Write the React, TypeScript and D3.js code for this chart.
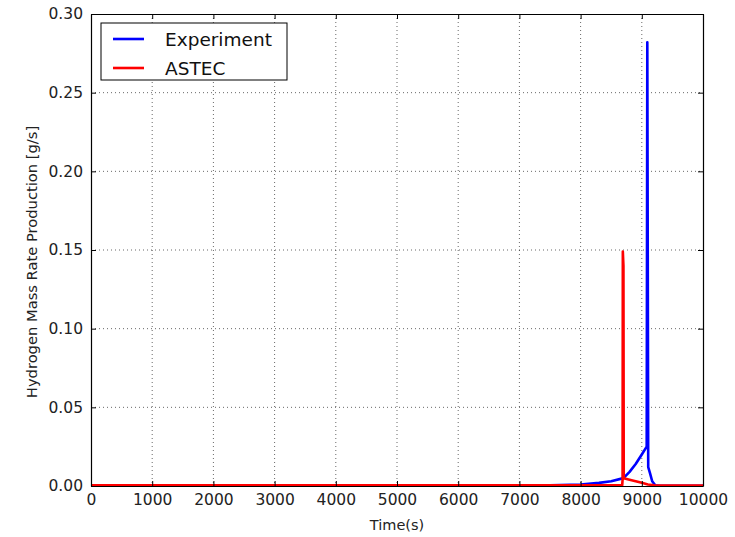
import { useEffect, useRef } from 'react';
import * as d3 from 'd3';

// Experiment series (time in s, rate in g/s)
const expTime = [0, 1000, 2000, 3000, 4000, 5000, 6000, 7000, 7500, 8000, 8300, 8500, 8700, 8800, 8900, 9000, 9080, 9090, 9105, 9135, 9170, 9220, 9300, 10000];
const expRate = [0, 0, 0, 0, 0, 0, 0, 0.0003, 0.0005, 0.001, 0.002, 0.003, 0.005, 0.009, 0.014, 0.02, 0.025, 0.282, 0.012, 0.008, 0.003, 0.0005, 0.0002, 0.0002];

// ASTEC series
const astecTime = [0, 2000, 4000, 6000, 8000, 8680, 8686, 8690, 8700, 8705, 8800, 8900, 9000, 9100, 9200, 10000];
const astecRate = [0.0005, 0.0005, 0.0005, 0.0005, 0.0005, 0.0006, 0.004, 0.149, 0.14, 0.005, 0.004, 0.003, 0.002, 0.001, 0.0005, 0.0003];

const xTicks = [0, 1000, 2000, 3000, 4000, 5000, 6000, 7000, 8000, 9000, 10000];
const yTicks = [0, 0.05, 0.1, 0.15, 0.2, 0.25, 0.3];

const seriesNames = ['Experiment', 'ASTEC'];
const seriesColors = ['#0000ff', '#ff0000'];

const App = () => {
  const svgRef = useRef<SVGSVGElement>(null);

  useEffect(() => {
    const svg = d3.select(svgRef.current);
    svg.selectAll('*').remove();

    const W = 735, H = 537;
    const margin = { top: 14, right: 32, bottom: 51, left: 91 };
    const width = W - margin.left - margin.right;
    const height = H - margin.top - margin.bottom;
    const font = 'DejaVu Sans, sans-serif';

    svg.attr('width', W).attr('height', H).style('font-family', font);
    svg.append('rect').attr('width', W).attr('height', H).attr('fill', '#fff');

    const g = svg.append('g').attr('transform', `translate(${margin.left},${margin.top})`);

    const x = d3.scaleLinear().domain([0, 10000]).range([0, width]);
    const y = d3.scaleLinear().domain([0, 0.3]).range([height, 0]);

    // Grid
    g.selectAll('.vgrid').data(xTicks.slice(1, -1)).enter().append('line')
      .attr('x1', d => x(d)).attr('x2', d => x(d)).attr('y1', 0).attr('y2', height)
      .attr('stroke', '#000').attr('stroke-width', 0.6).attr('stroke-dasharray', '1,3');
    g.selectAll('.hgrid').data(yTicks.slice(1, -1)).enter().append('line')
      .attr('y1', d => y(d)).attr('y2', d => y(d)).attr('x1', 0).attr('x2', width)
      .attr('stroke', '#000').attr('stroke-width', 0.6).attr('stroke-dasharray', '1,3');

    // Lines
    g.append('clipPath').attr('id', 'clip').append('rect').attr('width', width).attr('height', height);
    const line = d3.line<[number, number]>().x(d => x(d[0])).y(d => y(d[1]));
    const expData = expTime.map((t, i) => [t, expRate[i]] as [number, number]);
    const astecData = astecTime.map((t, i) => [t, astecRate[i]] as [number, number]);
    [expData, astecData].forEach((data, i) => {
      g.append('path').datum(data).attr('d', line).attr('fill', 'none')
        .attr('stroke', seriesColors[i]).attr('stroke-width', 2.6)
        .attr('stroke-linejoin', 'round').attr('clip-path', 'url(#clip)');
    });

    // Axes (inward ticks on all sides)
    const ax = (axis: any) => axis.tickSizeInner(-5).tickSizeOuter(0).tickPadding(8);
    g.append('g').attr('transform', `translate(0,${height})`)
      .call(ax(d3.axisBottom(x).tickValues(xTicks).tickFormat(d3.format('d'))));
    g.append('g').call(ax(d3.axisLeft(y).tickValues(yTicks).tickFormat(d3.format('.2f'))));
    g.append('g').call(ax(d3.axisTop(x).tickValues(xTicks)).tickFormat(() => ''));
    g.append('g').attr('transform', `translate(${width},0)`)
      .call(ax(d3.axisRight(y).tickValues(yTicks)).tickFormat(() => ''));
    g.selectAll('.domain').attr('stroke', '#000').attr('stroke-width', 1.2);
    g.selectAll('.tick line').attr('stroke', '#000');
    g.selectAll('.tick text').attr('font-size', 15.5).attr('font-family', font).attr('fill', '#222');

    // Axis labels
    svg.append('text').attr('x', margin.left + width / 2).attr('y', 530)
      .attr('text-anchor', 'middle').attr('font-size', 14.5).attr('fill', '#222').text('Time(s)');
    svg.append('text').attr('transform', `translate(37,262) rotate(-90)`)
      .attr('text-anchor', 'middle').attr('font-size', 14.7).attr('fill', '#222')
      .text('Hydrogen Mass Rate Production [g/s]');

    // Legend
    const lg = svg.append('g').attr('transform', 'translate(101,23)');
    lg.append('rect').attr('width', 186).attr('height', 57).attr('fill', '#fff')
      .attr('stroke', '#000').attr('stroke-width', 1);
    seriesNames.forEach((name, i) => {
      const yy = 16 + i * 29;
      lg.append('line').attr('x1', 12).attr('x2', 43).attr('y1', yy).attr('y2', yy)
        .attr('stroke', seriesColors[i]).attr('stroke-width', 2.6);
      lg.append('text').attr('x', 64).attr('y', yy + 6.5).attr('font-size', 18.5)
        .attr('fill', '#111').text(name);
    });
  }, []);

  return <svg ref={svgRef} style={{ display: 'block', position: 'absolute', left: 0, top: 0 }} />;
};

export default App;
